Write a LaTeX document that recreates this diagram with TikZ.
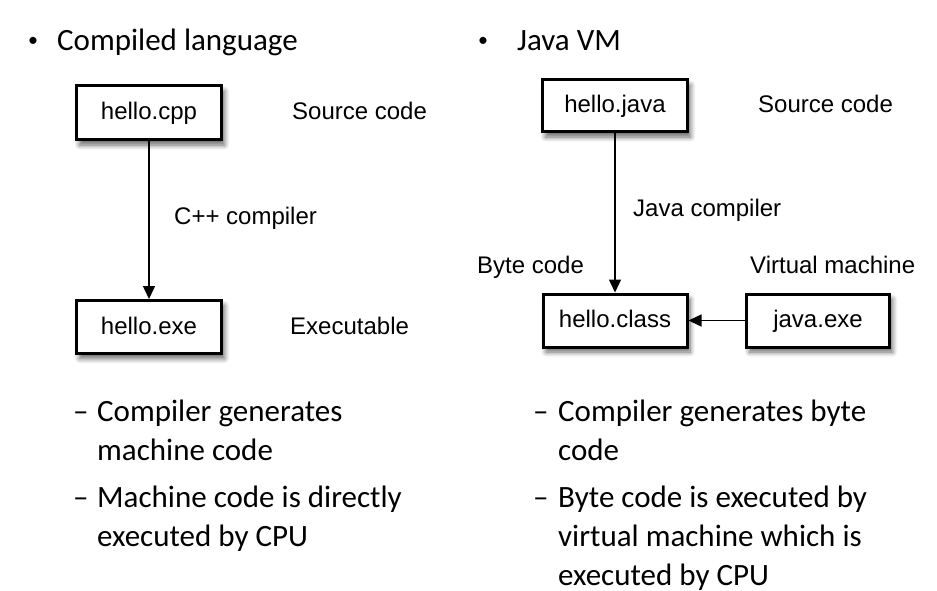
\documentclass[tikz,border=0pt]{standalone}
\usepackage{fontspec}
\setmainfont{Carlito}
\newfontfamily\arialf{Liberation Sans}
\usetikzlibrary{arrows.meta,shadows.blur}
\tikzset{
  filebox/.style={draw, line width=3pt, fill=white, rectangle, inner sep=0pt,
    font=\arialf\fontsize{24}{28}\selectfont, text height=17pt, text depth=3pt,
    blur shadow={shadow xshift=3pt, shadow yshift=-5pt, shadow blur steps=8, shadow blur radius=5pt, shadow opacity=60}},
  lab/.style={anchor=base west, inner sep=0pt, font=\arialf\fontsize{24}{28}\selectfont},
  big/.style={anchor=base west, inner sep=0pt, font=\fontsize{31}{38}\selectfont},
  dot/.style={inner sep=0pt, font=\fontsize{20}{24}\selectfont},
  conn/.style={line width=1.5pt, -{Triangle[length=13pt,width=12pt]}}
}
\begin{document}
\begin{tikzpicture}[x=1pt,y=-1pt]
\useasboundingbox (0,0) rectangle (937,591);
% headings
\node[dot] (b1) at (33,42) {•};
\node[big] (h1) at (57,51) {Compiled language};
\node[dot] (b2) at (483,42) {•};
\node[big] (h2) at (517,51) {Java VM};
% left diagram
\node[filebox, minimum width=145pt, minimum height=54pt] (cpp) at (149,113) {hello.cpp};
\node[filebox, minimum width=145pt, minimum height=53pt] (exe) at (149,327) {hello.exe};
\draw[conn] (cpp.south) -- (exe.north);
\node[lab] (l1) at (292,120) {Source code};
\node[lab] (l2) at (174,224) {C++ compiler};
\node[lab] (l3) at (290,334) {Executable};
% right diagram
\node[filebox, minimum width=145pt, minimum height=52pt] (java) at (615,106) {hello.java};
\node[filebox, minimum width=144pt, minimum height=53pt] (cls) at (615,320.5) {hello.class};
\node[filebox, minimum width=143pt, minimum height=53pt] (jexe) at (818,320.5) {java.exe};
\draw[conn] (java.south) -- (java.south |- cls.north);
\draw[conn] (jexe.west) -- (cls.east);
\node[lab] (r1) at (758,113) {Source code};
\node[lab] (r2) at (633,216) {Java compiler};
\node[lab] (r3) at (477,273) {Byte code};
\node[lab] (r4) at (750,273) {Virtual machine};
% left sub-bullets
\node[big] (d1) at (73,421) {–};
\node[big] (t1) at (97,421) {Compiler generates};
\node[big] (t2) at (97,460) {machine code};
\node[big] (d2) at (73,507) {–};
\node[big] (t3) at (97,507) {Machine code is directly};
\node[big] (t4) at (97,546) {executed by CPU};
% right sub-bullets
\node[big] (d3) at (533,421) {–};
\node[big] (u1) at (558,421) {Compiler generates byte};
\node[big] (u2) at (558,460) {code};
\node[big] (d4) at (533,507) {–};
\node[big] (u3) at (558,507) {Byte code is executed by};
\node[big] (u4) at (558,546) {virtual machine which is};
\node[big] (u5) at (558,585) {executed by CPU};
\end{tikzpicture}
\end{document}
